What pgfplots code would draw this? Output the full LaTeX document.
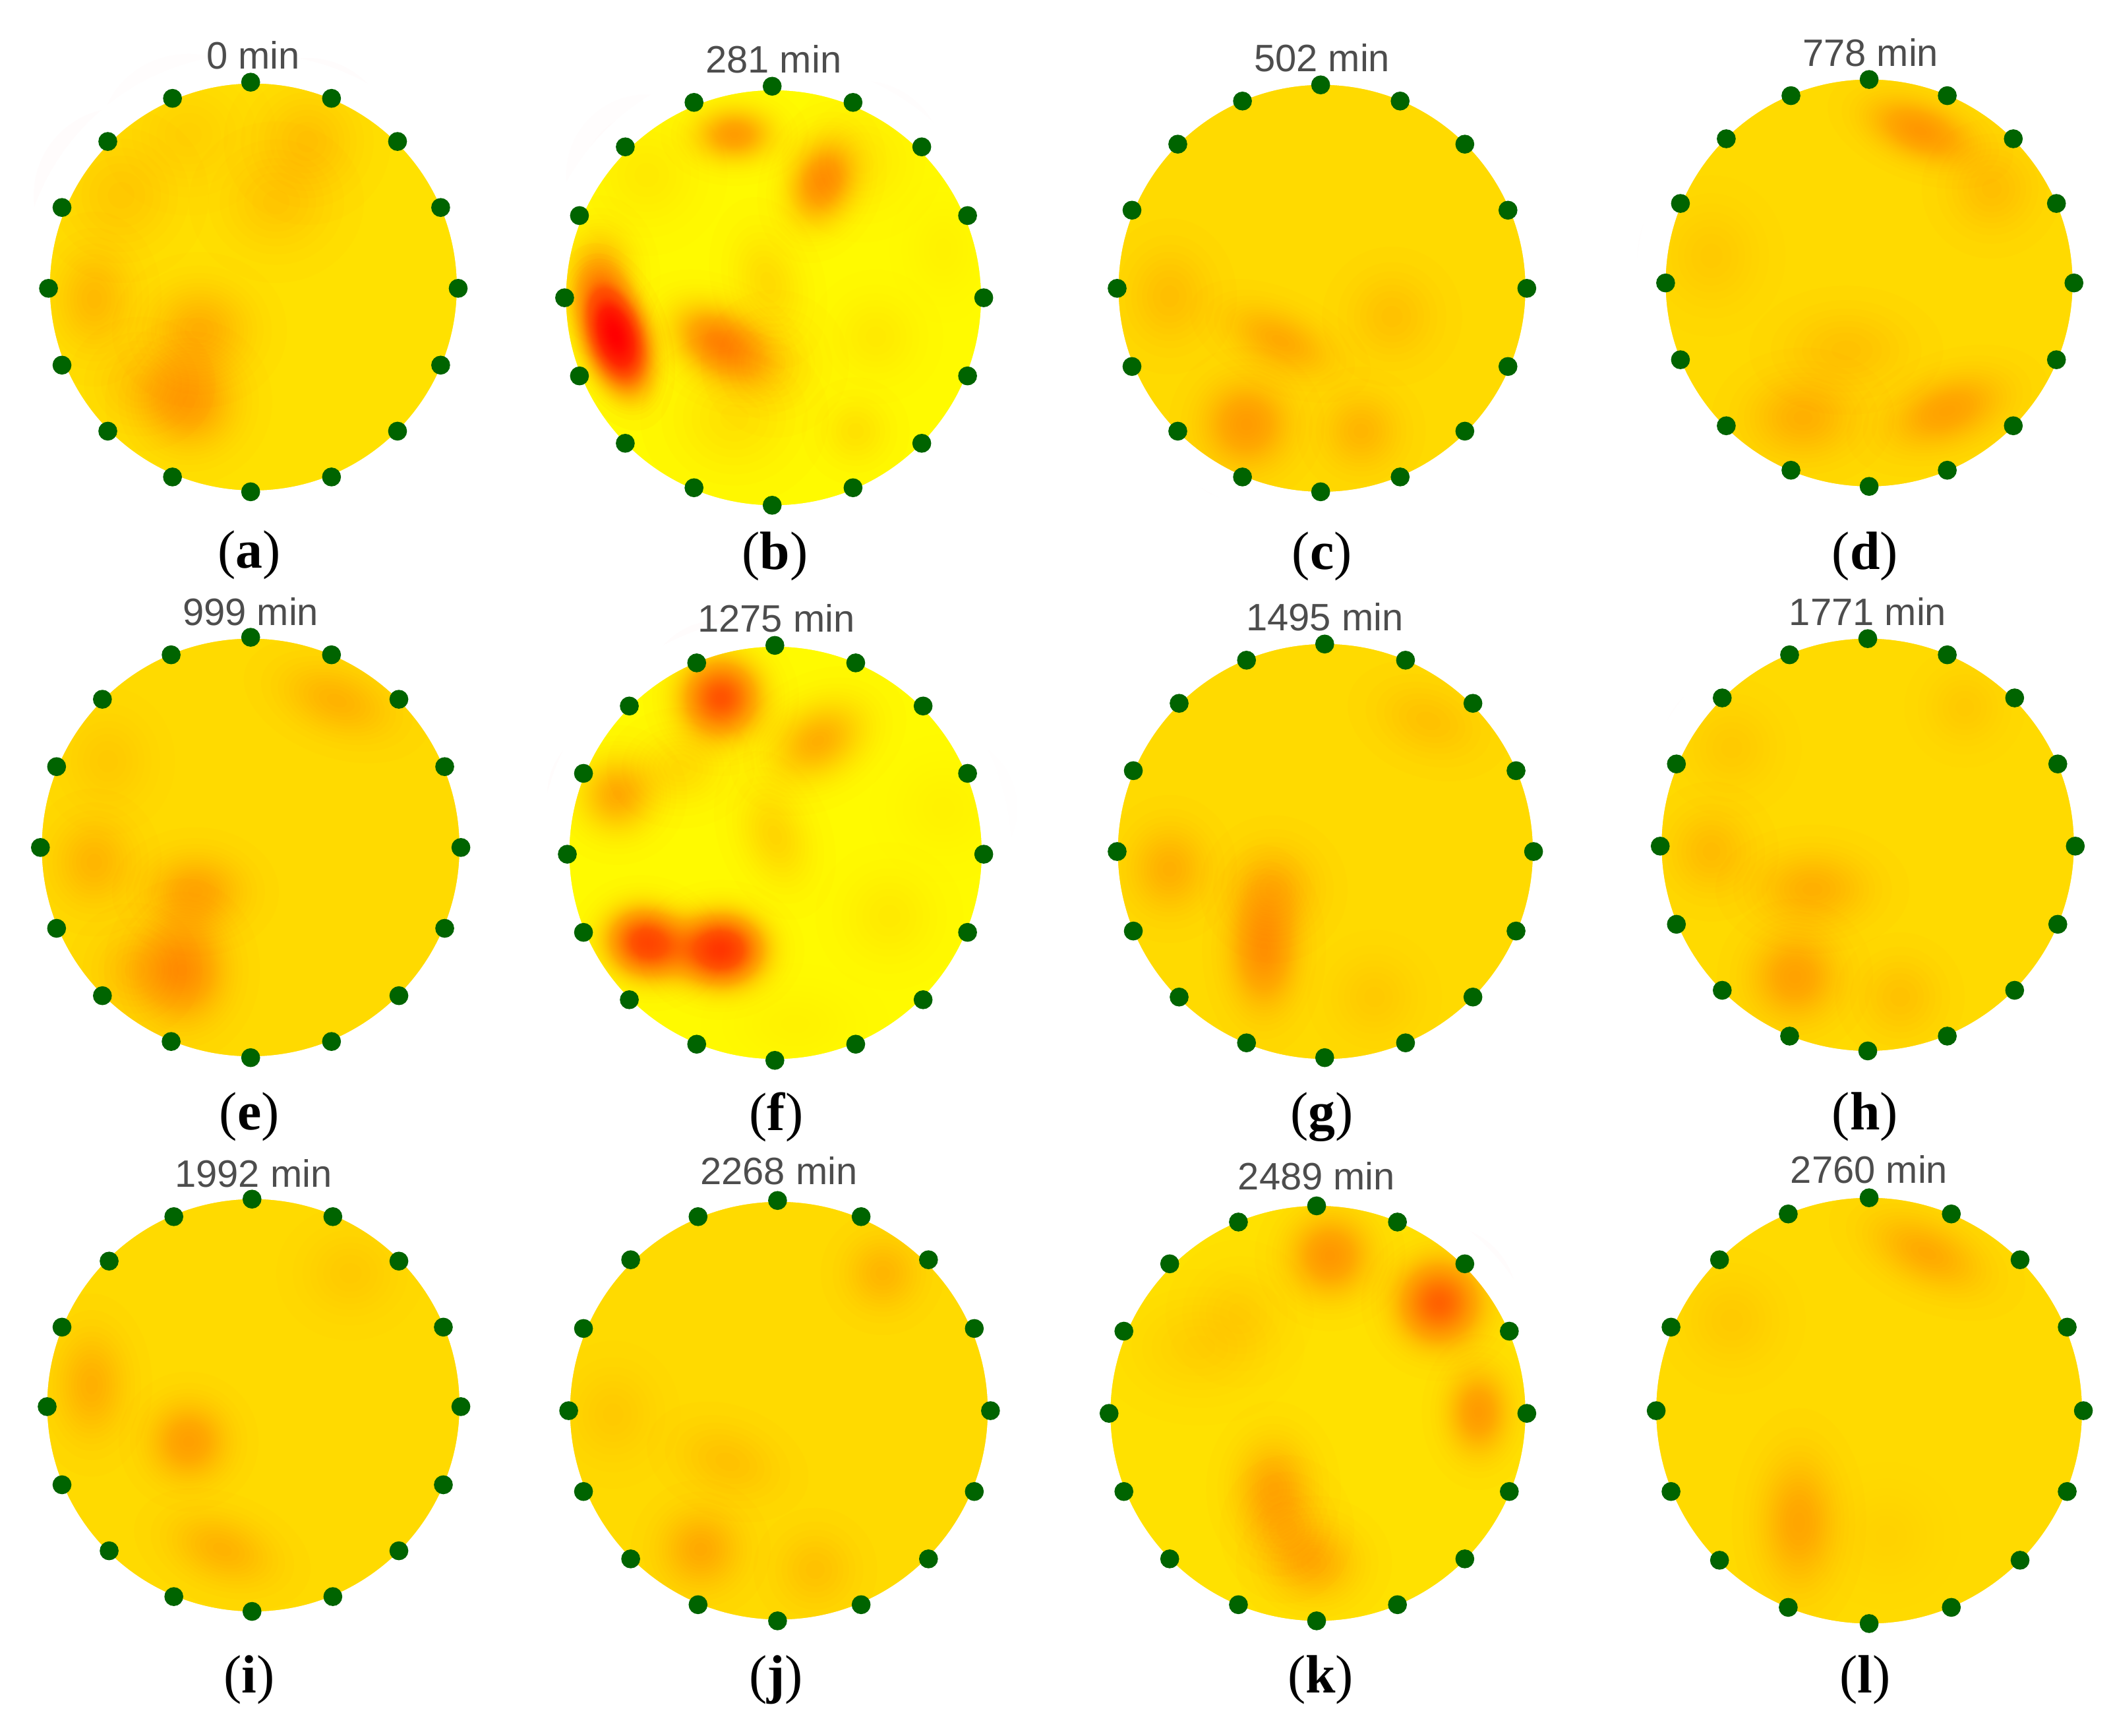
\documentclass[border=0pt]{standalone}
\usepackage{fontspec}
\setmainfont{Liberation Serif}
\newfontfamily\ttl{Liberation Sans}
\usepackage{pgfplots}
\pgfplotsset{compat=1.18}
\usepackage{pgfplotstable}
\definecolor{baseA}{RGB}{255,225,0}
\definecolor{baseB}{RGB}{255,250,0}
\definecolor{baseC}{RGB}{255,218,0}
\definecolor{elec}{RGB}{0,100,0}
\definecolor{ttlgray}{RGB}{77,77,77}
% concentric rings approximating a Gaussian bump, opacity per ring from data
\pgfdeclareplotmark{blob}{%
  \pgfmathtruncatemacro\Nr{max(8,min(100,\Tau/0.012))}%
  \pgfmathsetmacro\ringop{\Tau/\Nr}%
  \pgfmathsetmacro\lnn{ln(2*\Nr)}%
  \pgfsetfillopacity{\ringop}%
  \foreach \k in {1,...,\Nr}{%
    \pgfmathsetmacro\f{sqrt(ln(\Nr/(\k-.5))/\lnn)}%
    \pgfpathcircle{\pgfpointorigin}{\f\pgfplotmarksize}\pgfusepathqfill
  }%
}
\pgfplotstableread{
x y r
188 213 151
978 1049 154
}\discsA
\pgfplotstableread{
x y r
574 221 154
575.5 633 153
}\discsB
\pgfplotstableread{
x y r
981 214 151
1387 210 151
186 629 155
983.5 632 154
1386 627 153
188 1043 153
578 1047 155
1387 1047 158
}\discsC
\pgfplotstableread{
x y rx ry rot t
140 298 62 62 0 .28
148 245 65 58 0 .2
70 222 50 65 0 .16
228 105 62 62 -20 .13
205 150 65 60 0 .09
90 145 65 65 0 .09
140 100 65 60 0 .06
105 285 55 50 0 .09
457 250 40 72 18 2.3
445 205 45 60 0 .3
535 255 72 48 -30 .55
610 135 46 62 -20 .45
545 100 55 38 0 .4
570 210 42 65 15 .13
650 250 50 50 0 .06
635 320 40 40 0 .08
545 310 70 65 0 .1
575 270 55 55 0 .1
700 185 40 55 0 .04
640 120 60 60 0 .05
480 130 60 60 0 .05
925 315 58 58 0 .28
950 253 72 38 -25 .2
868 220 50 58 0 .12
1033 235 52 52 0 .1
1010 320 48 48 0 .15
1425 97 72 38 -20 .3
1478 140 52 52 0 .12
1370 260 72 48 0 .09
1338 310 68 52 0 .17
1445 305 78 44 20 .25
1270 190 55 60 0 .06
135 720 58 68 0 .35
145 662 62 48 0 .22
70 640 50 55 0 .15
250 520 72 42 -20 .16
80 565 50 55 0 .06
100 720 50 50 0 .08
535 518 58 58 0 .85
535 705 62 52 0 1.2
480 700 58 50 -15 1.0
607 550 70 50 30 .3
458 590 52 52 0 .32
505 570 55 45 0 .13
575 620 42 65 20 .15
660 680 55 55 0 .06
700 600 55 55 0 .04
590 760 70 45 0 .04
938 705 46 78 0 .34
945 660 55 55 0 .16
868 645 50 55 0 .18
1060 535 62 42 -20 .09
1020 740 50 50 0 .07
1332 725 58 58 0 .25
1345 660 72 48 0 .17
1270 632 50 52 0 .13
1410 740 48 48 0 .08
1458 525 45 45 0 .07
1285 555 52 52 0 .05
140 1070 52 52 0 .26
68 1028 45 68 0 .18
165 1150 68 42 -20 .16
260 945 55 50 0 .06
520 1150 52 52 0 .2
540 1085 62 42 -20 .1
605 1165 46 46 0 .1
655 945 46 46 0 .15
455 1050 50 55 0 .07
1068 967 58 58 0 .65
987 932 56 56 0 .33
1097 1048 42 58 0 .3
945 1105 50 65 0 .22
975 1160 58 50 0 .2
955 1135 50 55 0 .08
890 1000 78 58 0 .06
920 975 55 55 0 .05
1430 930 78 42 -25 .2
1335 1130 50 85 0 .22
1285 980 55 55 0 .05
1400 1140 55 55 0 .04
}\blobs
\pgfplotstableread{
x y
186 61
246 73
295 105
327 154
340 214
327 271
295 320
246 354
186 365
128 354
80 320
46 271
36 214
46 154
80 105
128 73
573 64
633 76
684 109
718 160
730 221
718 279
684 329
633 362
573 375
515 362
464 329
430 279
419 221
430 160
464 109
515 76
980 63
1039 75
1087 107
1119 156
1133 214
1119 272
1087 320
1039 354
980 365
922 354
874 320
840 272
829 214
840 156
874 107
922 75
1387 59
1445 71
1494 103
1526 151
1539 210
1526 267
1494 316
1445 349
1387 361
1329 349
1281 316
1247 267
1236 210
1247 151
1281 103
1329 71
186 473
246 486
296 519
330 569
342 629
330 689
296 739
246 773
186 785
127 773
76 739
42 689
30 629
42 569
76 519
127 486
575 479
635 492
685 524
718 574
730 634
718 692
685 742
635 775
575 787
517 775
467 742
433 692
421 634
433 574
467 524
517 492
983 478
1043 490
1093 522
1125 572
1138 632
1125 691
1093 740
1043 774
983 785
925 774
875 740
841 691
829 632
841 572
875 522
925 490
1386 474
1445 486
1495 518
1527 567
1540 628
1527 686
1495 735
1445 769
1386 780
1328 769
1278 735
1244 686
1232 628
1244 567
1278 518
1328 486
187 890
247 903
296 936
329 985
342 1044
329 1102
296 1151
247 1185
187 1196
129 1185
81 1151
46 1102
35 1044
46 985
81 936
129 903
577 891
639 903
689 935
723 986
735 1047
723 1107
689 1157
639 1191
577 1203
518 1191
468 1157
433 1107
422 1047
433 986
468 935
518 903
977 895
1037 907
1087 938
1120 988
1133 1049
1120 1107
1087 1157
1037 1191
977 1203
919 1191
868 1157
834 1107
823 1049
834 988
868 938
919 907
1387 889
1448 901
1499 935
1534 985
1546 1047
1534 1107
1499 1158
1448 1193
1387 1205
1327 1193
1276 1158
1240 1107
1229 1047
1240 985
1276 935
1327 901
}\electrodes
\pgfplotsset{
  discstyle/.style={only marks, scatter, mark=*,
    visualization depends on={\thisrow{r} \as \Rad},
    scatter/@pre marker code/.append style={/tikz/mark size={0.3*\Rad}}},
  ringstyle/.style={only marks, scatter, mark=o,
    scatter/use mapped color={draw=white,fill=none},
    mark options={line width=6.6pt},
    visualization depends on={\thisrow{r} \as \Rad},
    scatter/@pre marker code/.append style={/tikz/mark size={0.3*(\Rad+11)}}},
  sameframe/.style={at={(0pt,0pt)}, anchor=south west,
    scale only axis, width=470.4pt, height=386.3pt,
    xmin=0, xmax=1568, ymin=0, ymax=1288, y dir=reverse,
    hide axis, clip=false},
}
\begin{document}
\begin{tikzpicture}
\begin{axis}[sameframe]
\addplot[scatter/use mapped color={draw=baseA,fill=baseA}, discstyle] table {\discsA};
\addplot[scatter/use mapped color={draw=baseB,fill=baseB}, discstyle] table {\discsB};
\addplot[scatter/use mapped color={draw=baseC,fill=baseC}, discstyle] table {\discsC};
% heat blobs
\addplot[only marks, scatter, mark=blob,
  scatter/use mapped color={draw=none,fill=red},
  visualization depends on={\thisrow{rx} \as \Rx},
  visualization depends on={\thisrow{ry} \as \Ry},
  visualization depends on={\thisrow{rot} \as \Rot},
  visualization depends on={\thisrow{t} \as \Tau},
  scatter/@pre marker code/.append style={/tikz/mark size={0.3*\Rx},/tikz/rotate={\Rot},/tikz/yscale={\Ry/\Rx}},
] table {\blobs};
% white ring hides what spills over the edge of each disc
\addplot[ringstyle] table {\discsA};
\addplot[ringstyle] table {\discsB};
\addplot[ringstyle] table {\discsC};
\addplot[only marks, mark=*, mark size=1.9pt, color=elec, mark options={draw=elec,fill=elec}] table {\electrodes};
\end{axis}
\begin{axis}[sameframe]
\foreach \X/\Y/\T in {188/41/0 min,574/44/281 min,981/43/502 min,1388/39/778 min,
  186/454/999 min,576/459/1275 min,983/458/1495 min,1386/454/1771 min,
  188/871/1992 min,578/869/2268 min,977/873/2489 min,1387/868/2760 min}{
  \edef\tmp{\noexpand\node[text=ttlgray,font=\noexpand\ttl\noexpand\fontsize{8.5pt}{10pt}\noexpand\selectfont,inner sep=0pt] at (axis cs:\X,\Y) {\T};}\tmp
}
\foreach \X/\Y/\T in {185/412/a,575/413/b,981/413/c,1384/413/d,
  185/829/e,576/829/f,981/829/g,1384/829/h,
  185/1247/i,576/1247/j,980/1247/k,1384/1247/l}{
  \edef\tmp{\noexpand\node[text=black,font=\noexpand\fontsize{12pt}{14pt}\noexpand\selectfont,inner sep=0pt] at (axis cs:\X,\Y) {(\noexpand\textbf{\T})};}\tmp
}
\end{axis}
\pgfresetboundingbox
\path[use as bounding box] (0pt,0pt) rectangle (470.4pt,386.3pt);
\end{tikzpicture}
\end{document}
